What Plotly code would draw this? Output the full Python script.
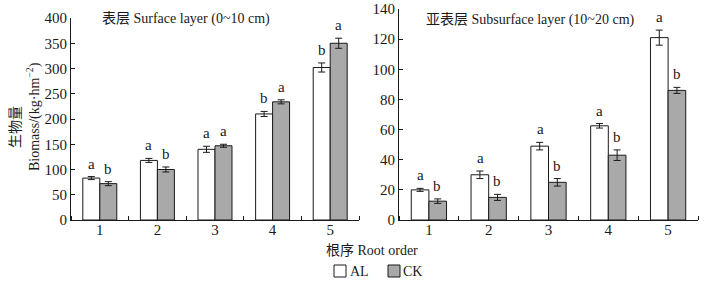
import plotly.graph_objects as go
from plotly.subplots import make_subplots

orders = [1, 2, 3, 4, 5]
order_labels = ["1", "2", "3", "4", "5"]

surf_al = [83, 118, 140, 210, 302]
surf_al_err = [3, 4, 6, 5, 9]
surf_ck = [72, 100, 147, 234, 350]
surf_ck_err = [4, 5, 3, 4, 10]
surf_al_sig = ["a", "a", "a", "b", "b"]
surf_ck_sig = ["b", "b", "a", "a", "a"]

sub_al = [20, 30, 49, 62.5, 121]
sub_al_err = [1, 2.5, 2.5, 1.5, 5]
sub_ck = [12.5, 15, 25, 43, 86]
sub_ck_err = [1.5, 2, 2.5, 3.5, 2]
sub_al_sig = ["a", "a", "a", "a", "a"]
sub_ck_sig = ["b", "b", "b", "b", "b"]

serif = "Liberation Serif, Times New Roman, Noto Sans CJK SC, serif"
ink = "#1a1a1a"
gray = "#a9a9a9"

W, H = 707, 283
fig = make_subplots(rows=1, cols=2)

def add_panel(col, al, al_err, ck, ck_err):
    fig.add_trace(go.Bar(x=orders, y=al, name="AL", marker=dict(color="white", line=dict(color=ink, width=1)),
                         error_y=dict(type="data", array=al_err, color=ink, thickness=1, width=3.5),
                         showlegend=False), row=1, col=col)
    fig.add_trace(go.Bar(x=orders, y=ck, name="CK", marker=dict(color=gray, line=dict(color=ink, width=1)),
                         error_y=dict(type="data", array=ck_err, color=ink, thickness=1, width=3.5),
                         showlegend=False), row=1, col=col)

add_panel(1, surf_al, surf_al_err, surf_ck, surf_ck_err)
add_panel(2, sub_al, sub_al_err, sub_ck, sub_ck_err)

ybot = (H - 220) / H
tickfont = dict(family=serif, size=15, color=ink)
fig.update_xaxes(showline=True, linecolor=ink, linewidth=1, showgrid=False, zeroline=False, automargin=False,
                 range=[0.5, 5.5], tickvals=orders, ticktext=order_labels, ticks="", tickfont=tickfont,
                 ticklabelstandoff=-4,
                 minor=dict(tick0=0.5, dtick=1, ticks="inside", ticklen=4, tickcolor=ink, showgrid=False))
fig.update_yaxes(showline=True, linecolor=ink, linewidth=1, showgrid=False, zeroline=False, automargin=False,
                 ticks="inside", ticklen=4, tickcolor=ink, tickfont=tickfont)
fig.update_layout(
    xaxis=dict(domain=[71 / W, 359 / W]),
    xaxis2=dict(domain=[399 / W, 698 / W]),
    yaxis=dict(domain=[ybot, (H - 18) / H], range=[0, 400], dtick=50),
    yaxis2=dict(domain=[ybot, (H - 9) / H], range=[0, 140], dtick=20),
)

ann = []
def sig_labels(xref, yref, vals, errs, sigs, dx):
    for o, v, e, s in zip(orders, vals, errs, sigs):
        ann.append(dict(x=o + dx, y=v + e, xref=xref, yref=yref, text=s, showarrow=False,
                        yshift=3, yanchor="bottom",
                        font=dict(family=serif, size=15, color=ink)))

sig_labels("x", "y", surf_al, surf_al_err, surf_al_sig, -0.148)
sig_labels("x", "y", surf_ck, surf_ck_err, surf_ck_sig, 0.148)
sig_labels("x2", "y2", sub_al, sub_al_err, sub_al_sig, -0.142)
sig_labels("x2", "y2", sub_ck, sub_ck_err, sub_ck_sig, 0.142)

ann += [
    dict(x=100 / W, y=(H - 19) / H, xref="paper", yref="paper", xanchor="left", yanchor="middle",
         text="表层 Surface layer (0~10 cm)", showarrow=False, font=dict(family=serif, size=14, color=ink)),
    dict(x=424 / W, y=(H - 20) / H, xref="paper", yref="paper", xanchor="left", yanchor="middle",
         text="亚表层 Subsurface layer (10~20 cm)", showarrow=False, font=dict(family=serif, size=14, color=ink)),
    dict(x=16 / W, y=(H - 127) / H, xref="paper", yref="paper", xanchor="center", yanchor="middle",
         text="生物量", textangle=-90, showarrow=False, font=dict(family=serif, size=14, color=ink)),
    dict(x=33 / W, y=(H - 117) / H, xref="paper", yref="paper", xanchor="center", yanchor="middle",
         text="Biomass/(kg·hm<sup>−2</sup>)", textangle=-90, showarrow=False,
         font=dict(family=serif, size=14, color=ink)),
    dict(x=372 / W, y=(H - 250) / H, xref="paper", yref="paper", xanchor="center", yanchor="middle",
         text="根序 Root order", showarrow=False, font=dict(family=serif, size=14, color=ink)),
    dict(x=348 / W, y=(H - 271) / H, xref="paper", yref="paper", xanchor="left", yanchor="middle",
         text="AL", showarrow=False, font=dict(family=serif, size=14, color=ink)),
    dict(x=401 / W, y=(H - 271) / H, xref="paper", yref="paper", xanchor="left", yanchor="middle",
         text="CK", showarrow=False, font=dict(family=serif, size=14, color=ink)),
]

shapes = [
    dict(type="rect", xref="paper", yref="paper", x0=334 / W, x1=346 / W, y0=(H - 277) / H, y1=(H - 265) / H,
         fillcolor="white", line=dict(color=ink, width=1)),
    dict(type="rect", xref="paper", yref="paper", x0=388 / W, x1=400 / W, y0=(H - 277) / H, y1=(H - 265) / H,
         fillcolor=gray, line=dict(color=ink, width=1)),
]

fig.update_layout(
    width=W, height=H,
    margin=dict(l=0, r=0, t=0, b=0, pad=0, autoexpand=False),
    paper_bgcolor="white", plot_bgcolor="white",
    barmode="group", bargap=0.41, bargroupgap=0,
    annotations=ann, shapes=shapes,
    showlegend=False,
)

fig.write_html("out.html", config={"displayModeBar": False},
               post_script="document.body.style.margin='0px';")
